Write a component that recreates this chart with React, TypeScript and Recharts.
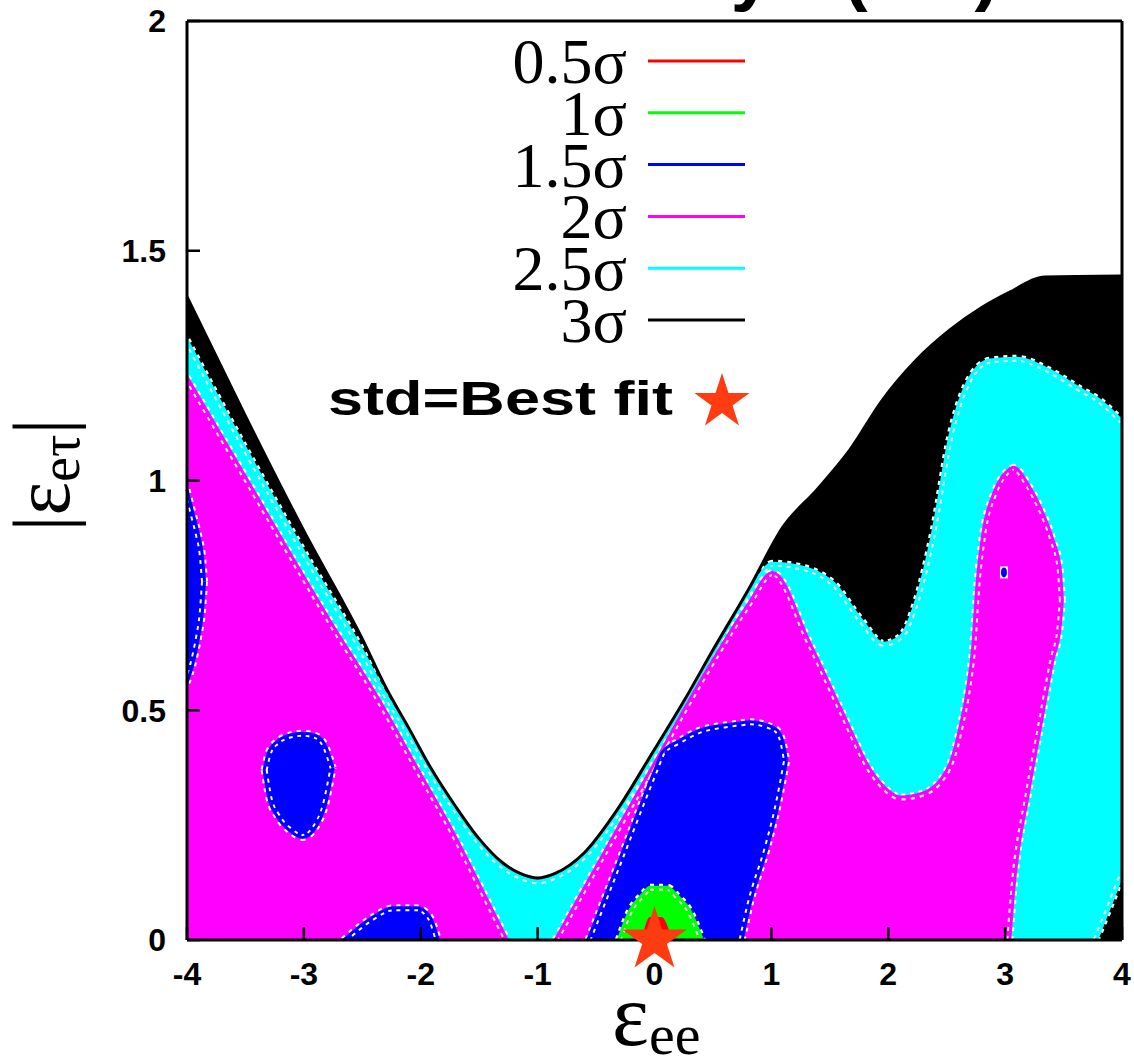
import React from 'react';
import { ComposedChart, Area, Line, Scatter, XAxis, YAxis } from 'recharts';

// axis ticks
const xTicks = [-4, -3, -2, -1, 0, 1, 2, 3, 4];
const yTicks = [0, 0.5, 1, 1.5, 2];

// 3σ contour, upper edge of the black region
const sigma3X = [-4, -3.5, -3, -2.5, -2.3, -2.1, -1.92, -1.7, -1.5, -1.3, -1.15, -1, -0.85, -0.6, -0.32, -0.04, 0.24, 0.5, 0.82, 1.1, 1.39, 1.67, 1.95, 2.24, 2.53, 2.81, 3.04, 3.34, 4];
const sigma3Hi = [1.4, 1.14, 0.89, 0.655, 0.55, 0.46, 0.377, 0.29, 0.22, 0.168, 0.145, 0.135, 0.145, 0.19, 0.283, 0.398, 0.515, 0.631, 0.77, 0.899, 0.98, 1.066, 1.175, 1.262, 1.328, 1.378, 1.41, 1.443, 1.445];

// 2.5σ contour (cyan region), lower edge only rises in the bottom right corner
const sigma25X = [-4, -3.5, -3, -2.5, -2.3, -2.1, -1.92, -1.7, -1.5, -1.3, -1.15, -1, -0.85, -0.6, -0.32, -0.04, 0.24, 0.5, 0.82, 1.01, 1.18, 1.53, 1.76, 1.96, 2.1, 2.24, 2.38, 2.53, 2.67, 2.87, 3.1, 3.38, 3.66, 3.78, 3.9, 4];
const sigma25Hi = [1.306, 1.07, 0.845, 0.63, 0.535, 0.452, 0.371, 0.284, 0.214, 0.162, 0.139, 0.129, 0.139, 0.184, 0.277, 0.39, 0.507, 0.623, 0.762, 0.82, 0.816, 0.777, 0.7, 0.646, 0.66, 0.74, 0.886, 1.1, 1.21, 1.262, 1.266, 1.24, 1.197, 1.18, 1.155, 1.13];
const sigma25Lo = [0, 0, 0, 0, 0, 0, 0, 0, 0, 0, 0, 0, 0, 0, 0, 0, 0, 0, 0, 0, 0, 0, 0, 0, 0, 0, 0, 0, 0, 0, 0, 0, 0, 0, 0.075, 0.14];

// 2σ contour (magenta), left wedge and right lobe
const sigma2LeftX = [-4, -3.5, -3, -2.78, -2.35, -2, -1.72, -1.5, -1.26];
const sigma2LeftHi = [1.225, 1.008, 0.79, 0.696, 0.52, 0.36, 0.233, 0.122, 0];
const sigma2LeftLo = [0, 0, 0, 0, 0, 0, 0, 0, 0];
const sigma2RightX = [-0.85, -0.3, 0, 0.25, 0.53, 0.8, 1.01, 1.33, 1.6, 1.85, 2, 2.1, 2.3, 2.45, 2.53, 2.62, 2.68, 2.72, 2.76, 2.81, 2.9, 2.98, 3.04, 3.07, 3.2, 3.3, 3.41, 3.47, 3.49];
const sigma2RightHi = [0, 0.25, 0.385, 0.5, 0.622, 0.73, 0.8, 0.646, 0.5, 0.37, 0.325, 0.311, 0.32, 0.35, 0.385, 0.47, 0.55, 0.63, 0.777, 0.886, 0.97, 1.01, 1.025, 1.029, 0.99, 0.942, 0.87, 0.81, 0.74];
const sigma2RightLo = [0, 0, 0, 0, 0, 0, 0, 0, 0, 0, 0, 0, 0, 0, 0, 0, 0, 0, 0, 0, 0, 0, 0, 0.098, 0.32, 0.46, 0.61, 0.68, 0.74];

// 1.5σ islands (blue)
const blueEdgeX = [-4, -3.95, -3.9, -3.87, -3.85];
const blueEdgeLo = [0.56, 0.6, 0.66, 0.71, 0.78];
const blueEdgeHi = [0.98, 0.93, 0.88, 0.84, 0.78];
const blueEggX = [-3.34, -3.3, -3.23, -3.12, -3.01, -2.9, -2.82, -2.75];
const blueEggLo = [0.37, 0.31, 0.27, 0.238, 0.223, 0.245, 0.29, 0.375];
const blueEggHi = [0.37, 0.41, 0.432, 0.446, 0.45, 0.445, 0.425, 0.375];
const blueFootX = [-2.66, -2.41, -2.24, -2.03, -1.92, -1.85];
const blueFootLo = [0, 0, 0, 0, 0, 0];
const blueFootHi = [0, 0.05, 0.07, 0.07, 0.05, 0];
const blueCoreX = [-0.57, -0.3, 0, 0.07, 0.2, 0.39, 0.6, 0.75, 0.82, 0.96, 1.05, 1.1, 1.13];
const blueCoreLo = [0, 0, 0, 0, 0, 0, 0, 0, 0.08, 0.196, 0.285, 0.348, 0.39];
const blueCoreHi = [0, 0.174, 0.368, 0.41, 0.432, 0.457, 0.468, 0.473, 0.475, 0.468, 0.457, 0.43, 0.39];
const blueDot = [{ x: 2.99, y: 0.8 }];

// 1σ and 0.5σ (green, red)
const greenX = [-0.31, -0.21, -0.1, -0.04, 0.11, 0.2, 0.3, 0.41];
const greenLo = [0, 0, 0, 0, 0, 0, 0, 0];
const greenHi = [0, 0.065, 0.1, 0.115, 0.115, 0.095, 0.065, 0];
const redX = [-0.11, -0.04, 0.06, 0.15];
const redLo = [0, 0, 0, 0];
const redHi = [0, 0.05, 0.05, 0];

const bestFit = [{ x: 0, y: 0 }];

const legendLabels = ['0.5σ', '1σ', '1.5σ', '2σ', '2.5σ', '3σ'];
const legendColors = ['#ff0000', '#00ff00', '#0000ff', '#ff00ff', '#00ffff', '#000000'];

const RED = '#ff0000';
const GREEN = '#00ff00';
const BLUE = '#0000ff';
const MAGENTA = '#ff00ff';
const CYAN = '#00ffff';
const STAR = '#ff3b12';

const SANS = '"Liberation Sans", Arial, sans-serif';
const SERIF = '"Liberation Serif", "Times New Roman", serif';

const band = (xs: number[], lo: number[], hi: number[]) =>
  xs.map((x, i) => ({ x, r: [lo[i], hi[i]] }));

const upperEdge = (xs: number[], hi: number[]) => xs.map((x, i) => ({ x, y: hi[i] }));

// lower edge, only where it leaves the axis
const lowerEdge = (xs: number[], lo: number[]) =>
  xs
    .map((x, i) => ({ x, y: lo[i], keep: lo[i] > 0 || lo[i - 1] > 0 || lo[i + 1] > 0 }))
    .filter((p) => p.keep)
    .map(({ x, y }) => ({ x, y }));

const starPath = (cx: number, cy: number, R: number) => {
  const r = R * 0.382;
  let d = '';
  for (let k = 0; k < 10; k++) {
    const rad = k % 2 === 0 ? R : r;
    const a = -Math.PI / 2 + (k * Math.PI) / 5;
    d += (k === 0 ? 'M' : 'L') + (cx + rad * Math.cos(a)).toFixed(2) + ',' + (cy + rad * Math.sin(a)).toFixed(2);
  }
  return d + 'Z';
};

const StarShape = (props: any) => <path d={starPath(props.cx, props.cy, 34)} fill={STAR} />;

const DotShape = (props: any) => (
  <g>
    <rect x={props.cx - 4} y={props.cy - 6} width={8} height={12} fill="#fff" />
    <ellipse cx={props.cx} cy={props.cy} rx={3} ry={5} fill={BLUE} />
  </g>
);

const regions = [
  { xs: sigma3X, lo: sigma3X.map(() => 0), hi: sigma3Hi, color: '#000000' },
  { xs: sigma25X, lo: sigma25Lo, hi: sigma25Hi, color: CYAN },
  { xs: sigma2LeftX, lo: sigma2LeftLo, hi: sigma2LeftHi, color: MAGENTA },
  { xs: sigma2RightX, lo: sigma2RightLo, hi: sigma2RightHi, color: MAGENTA },
  { xs: blueEdgeX, lo: blueEdgeLo, hi: blueEdgeHi, color: BLUE },
  { xs: blueEggX, lo: blueEggLo, hi: blueEggHi, color: BLUE },
  { xs: blueFootX, lo: blueFootLo, hi: blueFootHi, color: BLUE },
  { xs: blueCoreX, lo: blueCoreLo, hi: blueCoreHi, color: BLUE },
  { xs: greenX, lo: greenLo, hi: greenHi, color: GREEN },
  { xs: redX, lo: redLo, hi: redHi, color: RED },
];

// every contour edge, drawn as a line over the fills (black 3σ edge last)
const edges: { pts: { x: number; y: number }[]; color: string }[] = [];
regions.slice(1, 9).forEach((g) => {
  edges.push({ pts: upperEdge(g.xs, g.hi), color: g.color });
  const low = lowerEdge(g.xs, g.lo);
  if (low.length > 1) edges.push({ pts: low, color: g.color });
});

const tickFont = { fontSize: 32, fontWeight: 'bold' as const, fill: '#000', fontFamily: SANS };

const Overlay = () => (
  <svg width={1134} height={1058} style={{ position: 'absolute', left: 0, top: 0, pointerEvents: 'none' }}>
    {/* title, mostly above the page edge */}
    <text x={772} y={-3} textAnchor="end" fontFamily={SANS} fontWeight="bold" fontSize={74}>
      NSI only
    </text>
    <text x={843} y={-3} fontFamily={SANS} fontWeight="bold" fontSize={74}>
      (NH)
    </text>
    {legendLabels.map((label, i) => (
      <g key={label}>
        <text x={627} y={83 + i * 51.8} textAnchor="end" fontFamily={SERIF} fontSize={64}>
          {label}
        </text>
        <line x1={648} x2={745} y1={61 + i * 51.8} y2={61 + i * 51.8} stroke={legendColors[i]} strokeWidth={3} />
      </g>
    ))}
    <text x={328} y={415} fontFamily={SANS} fontWeight="bold" fontSize={49} textLength={345} lengthAdjust="spacingAndGlyphs">
      std=Best fit
    </text>
    <path d={starPath(722, 402, 29)} fill={STAR} />
    {/* axis titles */}
    <text x={612} y={1045} fontFamily={SERIF} fontSize={88}>
      ε<tspan fontSize={58} dy={9}>ee</tspan>
    </text>
    <text transform="translate(69,475) rotate(-90)" textAnchor="middle" fontFamily={SERIF} fontSize={80}>
      |ε<tspan fontSize={56} dy={10}>eτ</tspan><tspan dy={-10}>|</tspan>
    </text>
  </svg>
);

export default function App() {
  return (
    <div style={{ position: 'absolute', left: 0, top: 0, width: 1134, height: 1058, background: '#fff' }}>
      <ComposedChart width={1134} height={1058} margin={{ top: 20, right: 11, bottom: 88, left: 127 }}>
        {regions.map((g, i) => (
          <Area
            key={'fill' + i}
            data={band(g.xs, g.lo, g.hi)}
            dataKey="r"
            type="monotoneX"
            fill={g.color}
            fillOpacity={1}
            stroke="none"
            dot={false}
            activeDot={false}
            isAnimationActive={false}
          />
        ))}
        <Scatter data={blueDot} dataKey="y" shape={<DotShape />} isAnimationActive={false} />
        {edges.map((e, i) => (
          <Line
            key={'halo' + i}
            data={e.pts}
            dataKey="y"
            type="monotoneX"
            stroke="#ffffff"
            strokeWidth={7}
            strokeDasharray="4 5"
            dot={false}
            activeDot={false}
            isAnimationActive={false}
          />
        ))}
        {edges.map((e, i) => (
          <Line
            key={'edge' + i}
            data={e.pts}
            dataKey="y"
            type="monotoneX"
            stroke={e.color}
            strokeWidth={3}
            dot={false}
            activeDot={false}
            isAnimationActive={false}
          />
        ))}
        <Line
          data={upperEdge(sigma3X, sigma3Hi)}
          dataKey="y"
          type="monotoneX"
          stroke="#000"
          strokeWidth={3}
          dot={false}
          activeDot={false}
          isAnimationActive={false}
        />
        <XAxis
          dataKey="x"
          type="number"
          domain={[-4, 4]}
          ticks={xTicks}
          tickSize={-13}
          tickMargin={35}
          tick={tickFont}
          axisLine={{ stroke: '#000', strokeWidth: 3 }}
          tickLine={{ stroke: '#000', strokeWidth: 2.5 }}
        />
        <XAxis
          xAxisId="top"
          orientation="top"
          type="number"
          domain={[-4, 4]}
          ticks={xTicks}
          height={1}
          tickSize={-13}
          tick={false}
          axisLine={{ stroke: '#000', strokeWidth: 3 }}
          tickLine={{ stroke: '#000', strokeWidth: 2.5 }}
        />
        <YAxis
          type="number"
          domain={[0, 2]}
          ticks={yTicks}
          width={60}
          tickSize={-13}
          tickMargin={34}
          tick={tickFont}
          axisLine={{ stroke: '#000', strokeWidth: 3 }}
          tickLine={{ stroke: '#000', strokeWidth: 2.5 }}
        />
        <YAxis
          yAxisId="right"
          orientation="right"
          type="number"
          domain={[0, 2]}
          ticks={yTicks}
          width={1}
          tickSize={-13}
          tick={false}
          axisLine={{ stroke: '#000', strokeWidth: 3 }}
          tickLine={{ stroke: '#000', strokeWidth: 2.5 }}
        />
        <Scatter data={bestFit} dataKey="y" shape={<StarShape />} isAnimationActive={false} />
      </ComposedChart>
      <Overlay />
    </div>
  );
}
